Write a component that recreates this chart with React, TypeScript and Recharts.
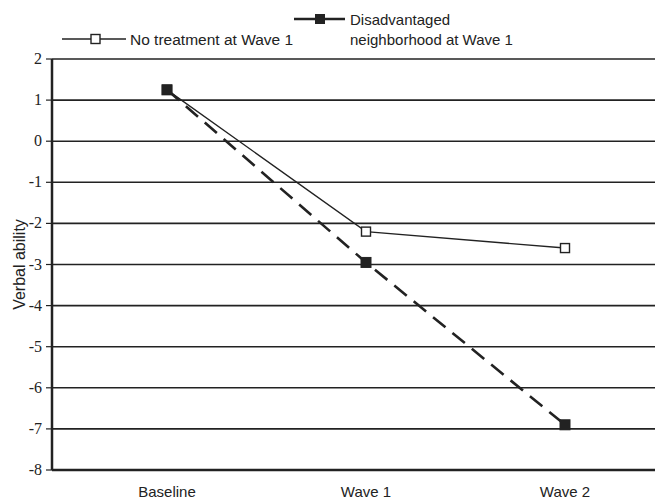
import React from 'react';
import { LineChart, Line, XAxis, YAxis, CartesianGrid } from 'recharts';

const waves = ['Baseline', 'Wave 1', 'Wave 2'];
const noTreatment = [1.25, -2.2, -2.6];
const disadvantaged = [1.25, -2.95, -6.9];
const yTicks = [-8, -7, -6, -5, -4, -3, -2, -1, 0, 1, 2];

const data = waves.map((wave, i) => ({
  wave,
  noTreatment: noTreatment[i],
  disadvantaged: disadvantaged[i],
}));

const SANS = '"Liberation Sans", Arial, sans-serif';
const SERIF = '"Liberation Serif", "Times New Roman", serif';

const OpenSquare = (props: any) => {
  const { cx, cy } = props;
  if (cx == null || cy == null) return null;
  return <rect x={cx - 4.5} y={cy - 4.5} width={9} height={9} fill="#fff" stroke="#222" strokeWidth={1.4} />;
};

const FilledSquare = (props: any) => {
  const { cx, cy } = props;
  if (cx == null || cy == null) return null;
  return <rect x={cx - 5} y={cy - 5} width={10} height={10} fill="#222" stroke="#222" strokeWidth={1} />;
};

const YTick = (props: any) => {
  const { x, y, payload } = props;
  return (
    <text x={x - 2} y={y} dy={5} textAnchor="end" fontFamily={SERIF} fontSize={16} fill="#222">
      {payload.value}
    </text>
  );
};

const XTick = (props: any) => {
  const { x, y, payload } = props;
  return (
    <text x={x} y={y} dy={19} textAnchor="middle" fontFamily={SANS} fontSize={15} fill="#222">
      {payload.value}
    </text>
  );
};

// legend drawn by hand, the figure has it as two odd-shaped entries
const ChartLegend = () => (
  <svg width={657} height={56} style={{ position: 'absolute', left: 0, top: 0 }}>
    <line x1={62} y1={39} x2={126} y2={39} stroke="#222" strokeWidth={1.4} />
    <rect x={91} y={34.5} width={9} height={9} fill="#fff" stroke="#222" strokeWidth={1.4} />
    <text x={130} y={45} fontFamily={SANS} fontSize={15.5} fill="#222">
      No treatment at Wave 1
    </text>
    <line x1={294} y1={19} x2={345} y2={19} stroke="#222" strokeWidth={2.6} />
    <rect x={315} y={14} width={10} height={10} fill="#222" />
    <text x={350} y={25} fontFamily={SANS} fontSize={15} fill="#222">
      Disadvantaged
    </text>
    <text x={350} y={45} fontFamily={SANS} fontSize={15} fill="#222">
      neighborhood at Wave 1
    </text>
  </svg>
);

export default function App() {
  return (
    <div style={{ position: 'absolute', left: 0, top: 0, width: 657, height: 502, background: '#fff' }}>
      <LineChart width={657} height={502} data={data} margin={{ top: 59, right: 2, bottom: 2, left: 0 }}>
        <CartesianGrid vertical={false} stroke="#222" strokeWidth={1.6} />
        <XAxis
          dataKey="wave"
          height={30}
          padding={{ left: 115, right: 90 }}
          axisLine={{ stroke: '#222', strokeWidth: 2.5 }}
          tickLine={false}
          tick={<XTick />}
        />
        <YAxis
          domain={[-8, 2]}
          ticks={yTicks}
          width={52}
          interval={0}
          axisLine={{ stroke: '#222', strokeWidth: 2.5 }}
          tickLine={{ stroke: '#222', strokeWidth: 1.2 }}
          tickSize={6}
          tick={<YTick />}
          label={{
            value: 'Verbal ability',
            angle: -90,
            position: 'insideLeft',
            dx: 14,
            style: { textAnchor: 'middle', fontSize: 16, fill: '#222', fontFamily: SANS },
          }}
        />
        <Line
          dataKey="noTreatment"
          stroke="#222"
          strokeWidth={1.4}
          dot={<OpenSquare />}
          activeDot={false}
          isAnimationActive={false}
        />
        <Line
          dataKey="disadvantaged"
          stroke="#222"
          strokeWidth={2.6}
          strokeDasharray="16 9"
          dot={<FilledSquare />}
          activeDot={false}
          isAnimationActive={false}
        />
      </LineChart>
      <ChartLegend />
    </div>
  );
}
